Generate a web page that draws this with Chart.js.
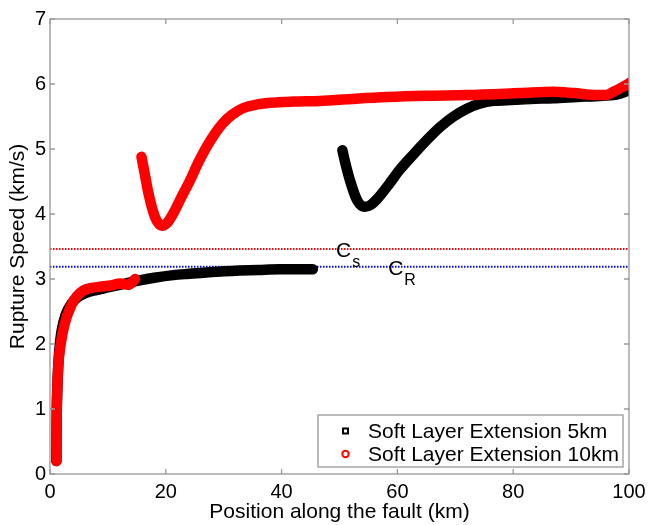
<!DOCTYPE html>
<html>
<head>
<meta charset="utf-8">
<script src="https://cdn.jsdelivr.net/npm/chart.js@4.4.1/dist/chart.umd.min.js"></script>
<style>
html,body{margin:0;padding:0;background:#fff;}
canvas{display:block;}
</style>
</head>
<body>
<canvas id="c" width="648" height="525"></canvas>
<script>
// ---- data ----
const xTicks = [0, 20, 40, 60, 80, 100];
const yTicks = [0, 1, 2, 3, 4, 5, 6, 7];

// Soft Layer Extension 5km (two segments, null = gap)
const ext5X = [1.1, 1.15, 1.3, 1.6, 2.0, 2.7, 3.7, 4.8, 6, 8, 10, 13, 15.5, 18, 21.3, 24, 27, 30, 32.8, 36, 39.7, 43, 45.4,
               48,
               50.5, 51.1, 51.8, 53, 54.4, 55.4, 56.4, 58.4, 60.4, 62.8, 65.1, 67.4, 69.7, 72, 74.3, 76.6, 78.9, 83, 86.9, 91, 95.5, 98, 100];
const ext5Y = [0.2, 0.8, 1.4, 1.9, 2.2, 2.45, 2.62, 2.72, 2.78, 2.83, 2.87, 2.93, 2.98, 3.02, 3.06, 3.08, 3.1, 3.12, 3.13, 3.14, 3.15, 3.15, 3.15,
               null,
               4.98, 4.75, 4.52, 4.22, 4.11, 4.14, 4.22, 4.44, 4.68, 4.92, 5.14, 5.34, 5.5, 5.62, 5.70, 5.74, 5.75, 5.77, 5.78, 5.8, 5.82, 5.84, 5.9];

// Soft Layer Extension 10km
const ext10X = [1.12, 1.15, 1.25, 1.45, 1.85, 2.5, 3.7, 4.6, 5.7, 7, 8.6, 10.5, 12.1, 13.5, 14.2, 14.7,
                15.2,
                15.8, 16.4, 17.0, 18.1, 19.3, 20.2, 21.3, 22.7, 24.2, 25.6, 27.1, 28.5, 29.9, 31.5, 33.4, 35.5, 38, 42, 46.6, 52, 58.2, 65, 72, 81.2, 86.9, 90.5, 94.4, 96, 97.3, 98.8, 100.2];
const ext10Y = [0.2, 0.8, 1.3, 1.7, 2.0, 2.3, 2.6, 2.73, 2.82, 2.86, 2.88, 2.9, 2.93, 2.91, 2.95, 3.0,
                null,
                4.88, 4.6, 4.32, 3.96, 3.82, 3.86, 4.01, 4.26, 4.52, 4.79, 5.04, 5.24, 5.40, 5.53, 5.63, 5.68, 5.71, 5.73, 5.74, 5.77, 5.8, 5.82, 5.83, 5.86, 5.88, 5.86, 5.83, 5.83, 5.88, 5.95, 6.02];

// wave speeds
const csValue = 3.46;   // S-wave speed
const crValue = 3.19;   // Rayleigh speed
const speedLabels = [
  {main: 'C', sub: 's', x: 49.4, y: 3.42},
  {main: 'C', sub: 'R', x: 58.4, y: 3.15}
];
const seriesNames = ['Soft Layer Extension 5km', 'Soft Layer Extension 10km'];

const FONT = '"Liberation Sans", Arial, Helvetica, sans-serif';
const zip = (xs, ys) => xs.map((x, i) => ({x: x, y: ys[i]}));

// plugin: box, inward ticks, speed labels, legend
const decor = {
  id: 'decor',
  afterDraw(chart) {
    const {ctx, chartArea: a, scales: {x, y}} = chart;
    ctx.save();
    ctx.strokeStyle = '#999';
    ctx.lineWidth = 1.3;
    ctx.strokeRect(a.left, a.top, a.right - a.left, a.bottom - a.top);
    const tl = 5;
    ctx.beginPath();
    x.ticks.forEach(t => {
      const px = x.getPixelForValue(t.value);
      ctx.moveTo(px, a.bottom); ctx.lineTo(px, a.bottom - tl);
      ctx.moveTo(px, a.top); ctx.lineTo(px, a.top + tl);
    });
    y.ticks.forEach(t => {
      const py = y.getPixelForValue(t.value);
      ctx.moveTo(a.left, py); ctx.lineTo(a.left + tl, py);
      ctx.moveTo(a.right, py); ctx.lineTo(a.right - tl, py);
    });
    ctx.stroke();

    // speed labels
    ctx.fillStyle = '#000';
    ctx.textBaseline = 'middle';
    ctx.textAlign = 'left';
    speedLabels.forEach(l => {
      const px = x.getPixelForValue(l.x), py = y.getPixelForValue(l.y);
      ctx.font = '21px ' + FONT;
      ctx.fillText(l.main, px, py);
      const w = ctx.measureText(l.main).width;
      ctx.font = '16px ' + FONT;
      ctx.fillText(l.sub, px + w + 1, py + 11);
    });

    // legend
    const lx = a.right - 311, ly = a.bottom - 59, lw = 305, lh = 52;
    ctx.fillStyle = '#fff';
    ctx.fillRect(lx, ly, lw, lh);
    ctx.strokeStyle = '#999';
    ctx.lineWidth = 1.3;
    ctx.strokeRect(lx, ly, lw, lh);
    const rows = [ly + 16, ly + 39];
    ctx.lineWidth = 2;
    ctx.strokeStyle = '#000';
    ctx.beginPath();
    ctx.rect(lx + 25, rows[0] - 2.5, 5, 5);
    ctx.stroke();
    ctx.strokeStyle = '#ff0000';
    ctx.beginPath();
    ctx.arc(lx + 27.5, rows[1], 3.2, 0, Math.PI * 2);
    ctx.stroke();
    ctx.fillStyle = '#000';
    ctx.font = '21px ' + FONT;
    ctx.textBaseline = 'middle';
    ctx.fillText(seriesNames[0], lx + 50, rows[0] + 1);
    ctx.fillText(seriesNames[1], lx + 50, rows[1] + 1);
    ctx.restore();
  }
};

new Chart(document.getElementById('c'), {
  type: 'line',
  data: {
    datasets: [
      {
        label: seriesNames[1],
        data: zip(ext10X, ext10Y),
        borderColor: '#ff0000',
        borderWidth: 10.5,
        borderCapStyle: 'round',
        borderJoinStyle: 'round',
        pointRadius: 0,
        cubicInterpolationMode: 'monotone',
        spanGaps: false,
        order: 1
      },
      {
        label: seriesNames[0],
        data: zip(ext5X, ext5Y),
        borderColor: '#000000',
        borderWidth: 10.5,
        borderCapStyle: 'round',
        borderJoinStyle: 'round',
        pointRadius: 0,
        cubicInterpolationMode: 'monotone',
        spanGaps: false,
        order: 2
      },
      {
        label: 'Cs',
        data: [{x: 0, y: csValue}, {x: 100, y: csValue}],
        borderColor: '#ff0000',
        borderWidth: 2,
        borderDash: [1.5, 1.5],
        pointRadius: 0,
        order: 3
      },
      {
        label: 'CR',
        data: [{x: 0, y: crValue}, {x: 100, y: crValue}],
        borderColor: '#0000ff',
        borderWidth: 2,
        borderDash: [1.5, 1.5],
        pointRadius: 0,
        order: 4
      }
    ]
  },
  options: {
    responsive: false,
    animation: false,
    devicePixelRatio: 1,
    layout: {padding: {top: 19, right: 19, left: 0, bottom: 0}},
    plugins: {legend: {display: false}, tooltip: {enabled: false}},
    scales: {
      x: {
        type: 'linear',
        min: 0, max: 100,
        afterBuildTicks: s => { s.ticks = xTicks.map(v => ({value: v})); },
        afterFit: s => { s.height = 51; s.paddingLeft = 0; s.paddingRight = 0; },
        grid: {display: false, drawTicks: false},
        border: {display: false},
        ticks: {color: '#000', font: {family: FONT, size: 20}, padding: 6, maxRotation: 0},
        title: {display: true, text: 'Position along the fault (km)', color: '#000', font: {family: FONT, size: 21}, padding: {top: 0, bottom: 0}}
      },
      y: {
        type: 'linear',
        min: 0, max: 7,
        afterBuildTicks: s => { s.ticks = yTicks.map(v => ({value: v})); },
        afterFit: s => { s.width = 50; s.paddingTop = 0; s.paddingBottom = 0; },
        grid: {display: false, drawTicks: false},
        border: {display: false},
        ticks: {color: '#000', font: {family: FONT, size: 20}, padding: 4},
        title: {display: true, text: 'Rupture Speed (km/s)', color: '#000', font: {family: FONT, size: 21}, padding: {top: 6, bottom: 0}}
      }
    }
  },
  plugins: [decor]
});
</script>
</body>
</html>
